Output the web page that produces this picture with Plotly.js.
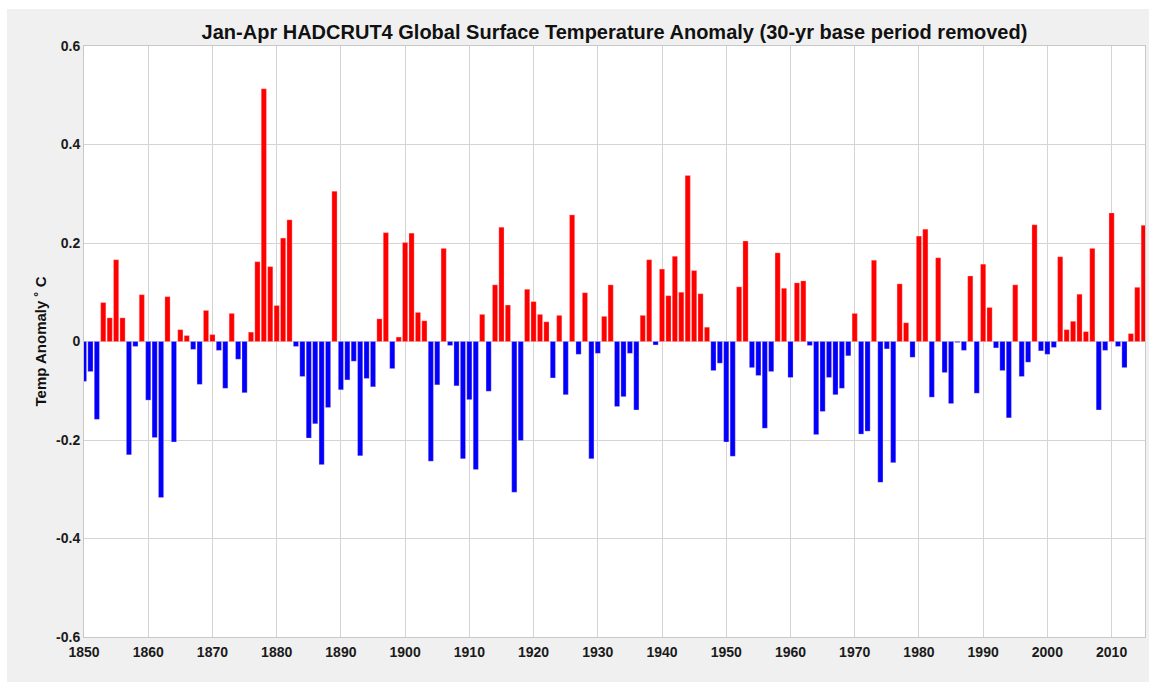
<!DOCTYPE html>
<html>
<head>
<meta charset="utf-8">
<script src="https://cdn.plot.ly/plotly-3.0.1.min.js"></script>
<style>
html,body{margin:0;padding:0;background:#ffffff;}
#chart{position:absolute;left:7px;top:9px;width:1142px;height:673px;}
</style>
</head>
<body>
<div id="chart"></div>
<script>
var startYear = 1850;
var anomalies = [
 -0.081,-0.061,-0.158,0.079,0.048,0.166,0.048,-0.230,-0.010,0.095,
 -0.119,-0.195,-0.317,0.091,-0.204,0.024,0.012,-0.016,-0.087,0.063,
 0.014,-0.018,-0.095,0.057,-0.036,-0.104,0.019,0.162,0.513,0.152,
 0.073,0.210,0.247,-0.010,-0.071,-0.196,-0.167,-0.250,-0.134,0.305,
 -0.098,-0.078,-0.040,-0.232,-0.075,-0.092,0.046,0.221,-0.055,0.009,
 0.201,0.220,0.059,0.042,-0.243,-0.088,0.189,-0.008,-0.090,-0.238,
 -0.118,-0.260,0.055,-0.101,0.115,0.232,0.074,-0.306,-0.201,0.106,
 0.081,0.055,0.040,-0.074,0.053,-0.108,0.257,-0.026,0.099,-0.238,
 -0.024,0.051,0.115,-0.132,-0.112,-0.024,-0.139,0.053,0.166,-0.007,
 0.147,0.093,0.173,0.100,0.337,0.144,0.097,0.029,-0.059,-0.044,
 -0.204,-0.233,0.111,0.204,-0.053,-0.069,-0.176,-0.061,0.180,0.108,
 -0.073,0.119,0.123,-0.008,-0.189,-0.142,-0.073,-0.108,-0.095,-0.029,
 0.057,-0.188,-0.182,0.165,-0.286,-0.015,-0.246,0.117,0.038,-0.032,
 0.214,0.228,-0.113,0.170,-0.063,-0.126,-0.002,-0.018,0.133,-0.105,
 0.157,0.069,-0.013,-0.059,-0.155,0.115,-0.071,-0.042,0.237,-0.019,
 -0.026,-0.012,0.172,0.024,0.041,0.096,0.020,0.189,-0.139,-0.018,
 0.261,-0.010,-0.053,0.016,0.110,0.236
];
var years = anomalies.map(function(v,i){return startYear+i;});
var xTicks = [1850,1860,1870,1880,1890,1900,1910,1920,1930,1940,1950,1960,1970,1980,1990,2000,2010];
var yTicks = [-0.6,-0.4,-0.2,0,0.2,0.4,0.6];
var yTickLabels = ['-0.6','-0.4','-0.2','0','0.2','0.4','0.6'];

var colors = anomalies.map(function(v){return v>=0 ? '#ff0000' : '#0000ff';});

var trace = {
  type:'bar',
  x: years,
  y: anomalies,
  marker:{color:colors, line:{color:'rgba(255,200,200,0.6)', width:0.5}},
  hoverinfo:'x+y'
};

var fam = 'Liberation Sans, Arial, Helvetica, sans-serif';
var tickFont = {family:fam, size:14, color:'#1a1a1a', weight:'bold'};

var layout = {
  paper_bgcolor:'#f0f0f0',
  plot_bgcolor:'#ffffff',
  margin:{l:77,r:4,t:37,b:45},
  bargap:0.2,
  showlegend:false,
  title:{text:'<b>Jan-Apr HADCRUT4 Global Surface Temperature Anomaly (30-yr base period removed)</b>',
         font:{family:fam, size:20, color:'#111111'},
         x:0.5, xref:'paper', y:0.966, yref:'container', yanchor:'middle'},
  xaxis:{
    range:[1850,2015.2],
    tickvals:xTicks,
    ticktext:xTicks.map(String),
    tickfont:tickFont,
    showgrid:true, gridcolor:'#d4d4d4', gridwidth:1,
    zeroline:false,
    showline:true, linecolor:'#c8c8c8', mirror:true,
    ticks:'outside', ticklen:2, tickcolor:'rgba(0,0,0,0)'
  },
  yaxis:{
    range:[-0.6,0.6],
    tickvals:yTicks,
    ticktext:yTickLabels,
    tickfont:tickFont,
    showgrid:true, gridcolor:'#d4d4d4', gridwidth:1,
    zeroline:false,
    showline:true, linecolor:'#c8c8c8', mirror:true,
    ticks:'', ticklen:0,
    title:{text:'<b>Temp Anomaly ˚ C</b>', font:{family:fam, size:15, color:'#111111'}, standoff:5}
  }
};

Plotly.newPlot('chart',[trace],layout,{displayModeBar:false, staticPlot:true});
</script>
</body>
</html>
